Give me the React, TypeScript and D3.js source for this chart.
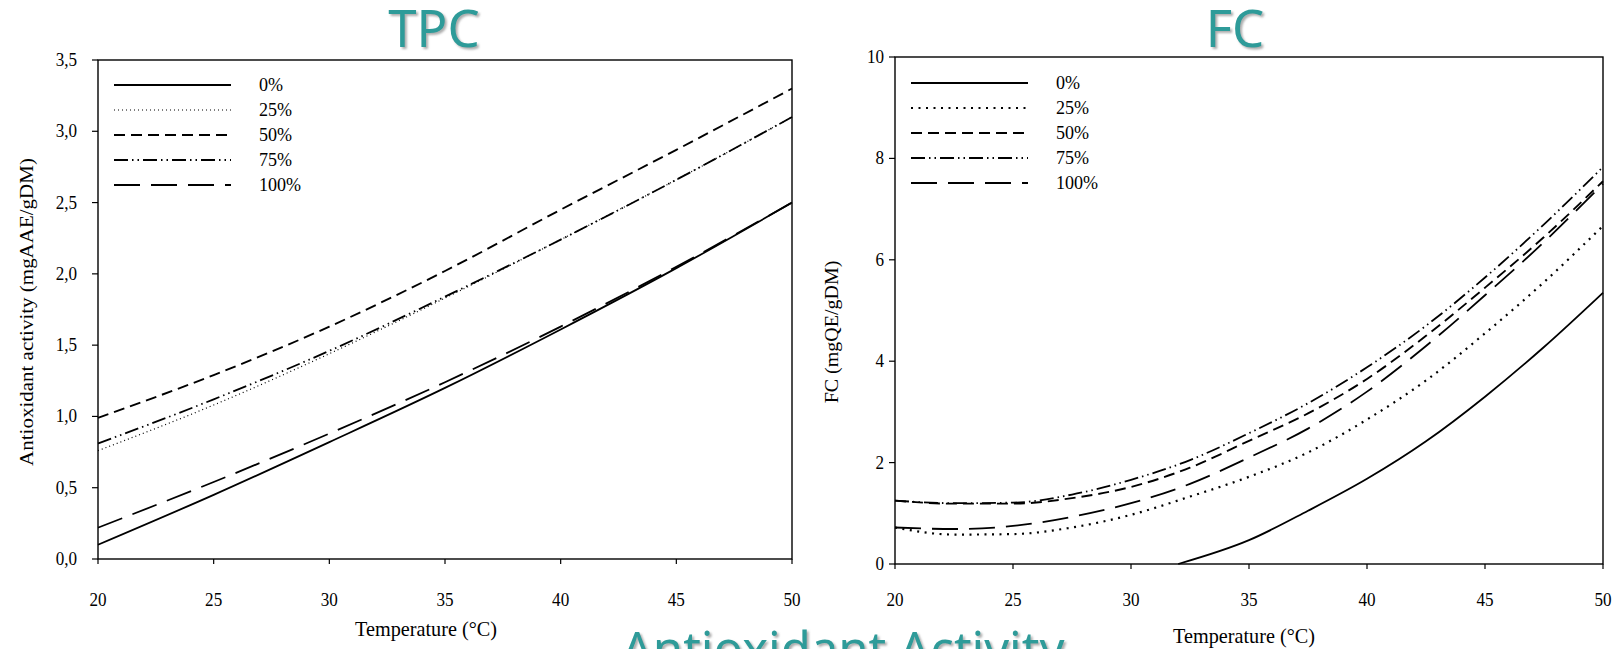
import * as d3 from 'd3';
import React, {useEffect, useRef} from 'react';

// series labels, shared by both panels
const seriesNames = ['0%', '25%', '50%', '75%', '100%'];
const tempTicks = [20, 25, 30, 35, 40, 45, 50];

// TPC panel (antioxidant activity, mgAAE/gDM)
const tpcTemps = [20, 25, 30, 35, 40, 45, 50];
const tpc0 = [0.10, 0.45, 0.82, 1.20, 1.61, 2.04, 2.50];
const tpc25 = [0.76, 1.08, 1.44, 1.83, 2.24, 2.66, 3.10];
const tpc50 = [0.99, 1.29, 1.63, 2.02, 2.45, 2.87, 3.30];
const tpc75 = [0.81, 1.12, 1.46, 1.84, 2.24, 2.66, 3.10];
const tpc100 = [0.22, 0.54, 0.88, 1.24, 1.63, 2.05, 2.50];
const tpcTicks = [0, 0.5, 1, 1.5, 2, 2.5, 3, 3.5];

// FC panel (mgQE/gDM)
const fcTemps = [20, 22.5, 25, 27.5, 30, 32.5, 35, 37.5, 40, 42.5, 45, 47.5, 50];
const fc0Temps = [32, 35, 37.5, 40, 42.5, 45, 47.5, 50];
const fc0 = [0, 0.47, 1.05, 1.68, 2.42, 3.3, 4.28, 5.35];
const fc25 = [0.72, 0.58, 0.59, 0.72, 0.97, 1.33, 1.72, 2.2, 2.85, 3.62, 4.55, 5.56, 6.67];
const fc50 = [1.25, 1.19, 1.19, 1.3, 1.52, 1.9, 2.43, 2.97, 3.65, 4.5, 5.45, 6.45, 7.55];
const fc75 = [1.25, 1.2, 1.21, 1.37, 1.66, 2.05, 2.58, 3.17, 3.88, 4.7, 5.65, 6.7, 7.83];
const fc100 = [0.72, 0.69, 0.75, 0.93, 1.2, 1.58, 2.1, 2.67, 3.4, 4.3, 5.3, 6.35, 7.5];
const fcTicks = [0, 2, 4, 6, 8, 10];

const teal = '#2f9b99';
const serif = '"Liberation Serif", "Times New Roman", serif';

const zip = (xs, ys) => xs.map((t, i) => [t, ys[i]]);

function txt(g, x, y, s, size, anchor = 'start', rot = false, sx = 0.9) {
  g.append('text')
    .attr('transform', `translate(${x},${y}) scale(${sx},1)${rot ? ' rotate(-90)' : ''}`)
    .attr('text-anchor', anchor)
    .attr('font-family', serif)
    .attr('font-size', size)
    .attr('fill', '#000')
    .text(s);
}

function drawPanel(svg, p) {
  const x = d3.scaleLinear().domain([20, 50]).range([p.left, p.right]);
  const y = d3.scaleLinear().domain([p.yTicks[0], p.yTicks[p.yTicks.length - 1]]).range([p.bottom, p.top]);
  const g = svg.append('g');

  // lines
  const line = d3.line().x(d => x(d[0])).y(d => y(d[1])).curve(d3.curveMonotoneX);
  p.series.forEach((s, i) => {
    g.append('path')
      .attr('d', line(s))
      .attr('fill', 'none')
      .attr('stroke', '#000')
      .attr('stroke-width', p.styles[i].w)
      .attr('stroke-dasharray', p.styles[i].dash);
  });

  // frame
  g.append('rect')
    .attr('x', p.left).attr('y', p.top)
    .attr('width', p.right - p.left).attr('height', p.bottom - p.top)
    .attr('fill', 'none').attr('stroke', '#000').attr('stroke-width', 1.4);

  // y ticks
  p.yTicks.forEach(v => {
    g.append('line')
      .attr('x1', p.left - 6).attr('x2', p.left)
      .attr('y1', y(v)).attr('y2', y(v))
      .attr('stroke', '#000').attr('stroke-width', 1.2);
    txt(g, p.yLabelX, y(v) + 6, p.fmt(v), 19, 'end');
  });

  // x ticks
  tempTicks.forEach(v => {
    g.append('line')
      .attr('x1', x(v)).attr('x2', x(v))
      .attr('y1', p.bottom).attr('y2', p.bottom + 5)
      .attr('stroke', '#000').attr('stroke-width', 1.2);
    txt(g, x(v), p.xLabelY, String(v), 19, 'middle');
  });

  // axis titles
  txt(g, p.xTitleX, p.xTitleY, 'Temperature (°C)', 22, 'middle', false, 0.92);
  txt(g, p.yTitleX, p.yTitleY, p.yTitle, p.yTitleSize, 'middle', true);

  // legend
  seriesNames.forEach((n, i) => {
    const ly = p.legY + i * 25;
    g.append('line')
      .attr('x1', p.legX).attr('x2', p.legX + 117)
      .attr('y1', ly).attr('y2', ly)
      .attr('stroke', '#000')
      .attr('stroke-width', p.styles[i].w)
      .attr('stroke-dasharray', p.styles[i].dash);
    txt(g, p.legX + 145, ly + 6, n, 19, 'start', false, 0.95);
  });

  // panel title
  svg.append('text')
    .attr('x', p.titleX).attr('y', 47)
    .attr('text-anchor', 'middle')
    .attr('font-family', '"Noto Sans", "Open Sans", sans-serif')
    .attr('font-size', 51)
    .attr('fill', teal)
    .attr('filter', 'url(#shadow)')
    .text(p.title);
}

const App = () => {
  const svgRef = useRef();

  useEffect(() => {
    const svg = d3.select(svgRef.current);
    svg.selectAll('*').remove();

    const defs = svg.append('defs');
    defs.append('filter').attr('id', 'shadow')
      .append('feDropShadow')
      .attr('dx', 2).attr('dy', 2).attr('stdDeviation', 1.2)
      .attr('flood-color', '#777').attr('flood-opacity', 0.6);

    drawPanel(svg, {
      title: 'TPC', titleX: 434,
      left: 98, right: 792, top: 60, bottom: 559,
      yTicks: tpcTicks,
      fmt: v => d3.format('.1f')(v).replace('.', ','),
      yLabelX: 77, xLabelY: 606,
      xTitleX: 426, xTitleY: 636,
      yTitleX: 33, yTitleY: 312, yTitleSize: 21,
      yTitle: 'Antioxidant activity (mgAAE/gDM)',
      legX: 114, legY: 85,
      series: [zip(tpcTemps, tpc0), zip(tpcTemps, tpc25), zip(tpcTemps, tpc50), zip(tpcTemps, tpc75), zip(tpcTemps, tpc100)],
      styles: [
        {w: 1.8, dash: null},
        {w: 1.2, dash: '1,3'},
        {w: 1.9, dash: '11,6'},
        {w: 1.8, dash: '14,4,1.5,4,1.5,4'},
        {w: 1.8, dash: '26,11'},
      ],
    });

    drawPanel(svg, {
      title: 'FC', titleX: 1235,
      left: 895, right: 1603, top: 57, bottom: 564,
      yTicks: fcTicks,
      fmt: v => String(v),
      yLabelX: 884, xLabelY: 606,
      xTitleX: 1244, xTitleY: 643,
      yTitleX: 838, yTitleY: 332, yTitleSize: 20,
      yTitle: 'FC (mgQE/gDM)',
      legX: 911, legY: 83,
      series: [zip(fc0Temps, fc0), zip(fcTemps, fc25), zip(fcTemps, fc50), zip(fcTemps, fc75), zip(fcTemps, fc100)],
      styles: [
        {w: 1.8, dash: null},
        {w: 2.2, dash: '2,5.5'},
        {w: 1.9, dash: '11,6'},
        {w: 1.8, dash: '14,4,1.5,4,1.5,4'},
        {w: 1.8, dash: '26,11'},
      ],
    });

    // bottom slide title, cut by the page edge
    svg.append('text')
      .attr('x', 843).attr('y', 667)
      .attr('text-anchor', 'middle')
      .attr('font-family', '"Noto Sans", "Open Sans", sans-serif')
      .attr('font-size', 49)
      .attr('fill', teal)
      .attr('filter', 'url(#shadow)')
      .text('Antioxidant Activity');
  }, []);

  return (
    <div style={{position: 'absolute', left: 0, top: 0}}>
      <svg ref={svgRef} width="1615" height="649" style={{display: 'block', background: '#fff'}}></svg>
    </div>
  );
};

export default App;
